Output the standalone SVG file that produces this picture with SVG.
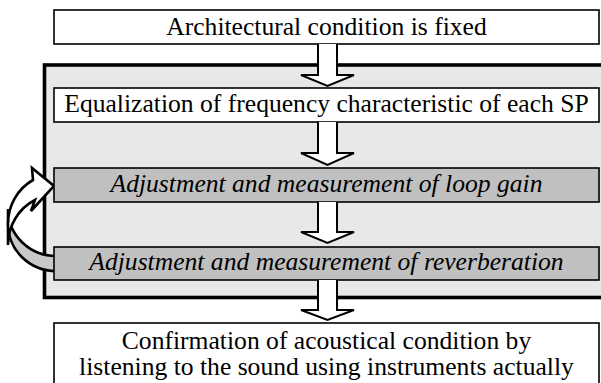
<svg xmlns="http://www.w3.org/2000/svg" width="601" height="383" viewBox="0 0 601 383">
<style>
.box{stroke:#000;stroke-width:1.6}
.white{fill:#fff}
.gray{fill:#c0c0c0}
text{font-family:"Liberation Serif","Times New Roman","DejaVu Serif",serif;font-size:25.6px;fill:#000;text-anchor:middle}
.it{font-style:italic}
.blk{fill:#fff;stroke:#000;stroke-width:2;stroke-linejoin:miter}
.loop{stroke:#000;stroke-width:2.6;stroke-linejoin:miter}
</style>
<rect width="601" height="383" fill="#fff"/>
<g id="frame">
<rect x="44.5" y="65" width="570" height="232.5" fill="#e8e8e8" stroke="#000" stroke-width="3.6"/>
</g>
<g id="connectors">
<g id="loop-arrow">
<path class="loop" fill="#c8c8c8" d="M 56,256 A 48 47 0 0 1 8,209 L 8,224 A 48 47 0 0 0 56,271 Z"/>
<path class="loop" fill="#fff" d="M 8,224 A 48 50 0 0 1 33,180 L 32,168 L 54,186 L 31,211 L 35,200 A 48 50 0 0 0 8,245 Z"/>
</g>
</g>
<g id="n1"><rect class="box white" x="54" y="10" width="545" height="34"/><text font-family="Liberation Serif, serif" x="326.5" y="35">Architectural condition is fixed</text></g>
<g id="n2"><rect class="box white" x="54" y="88" width="545" height="34"/><text font-family="Liberation Serif, serif" x="326.5" y="112">Equalization of frequency characteristic of each SP</text></g>
<g id="n3"><rect class="box gray" x="54" y="168" width="545" height="34"/><text class="it" font-family="Liberation Serif, serif" x="326.5" y="192">Adjustment and measurement of loop gain</text></g>
<g id="n4"><rect class="box gray" x="54" y="247" width="545" height="33"/><text class="it" font-family="Liberation Serif, serif" x="326.5" y="270">Adjustment and measurement of reverberation</text></g>
<g id="n5"><rect class="box white" x="54" y="323" width="545" height="80"/><text font-family="Liberation Serif, serif" x="326.5" y="349">Confirmation of acoustical condition by</text><text font-family="Liberation Serif, serif" x="326.5" y="375">listening to the sound using instruments actually</text></g>
<g id="block-arrows">
<path class="blk" d="M318,44 V75 H301 L327.5,86 L354,75 H337 V44"/>
<path class="blk" d="M318,122 V153 H301 L327.5,165 L354,153 H337 V122"/>
<path class="blk" d="M318,202 V232 H301 L327.5,243 L354,232 H337 V202"/>
<path class="blk" d="M318,280 V310 H301 L327.5,320 L354,310 H337 V280"/>
</g>
</svg>
